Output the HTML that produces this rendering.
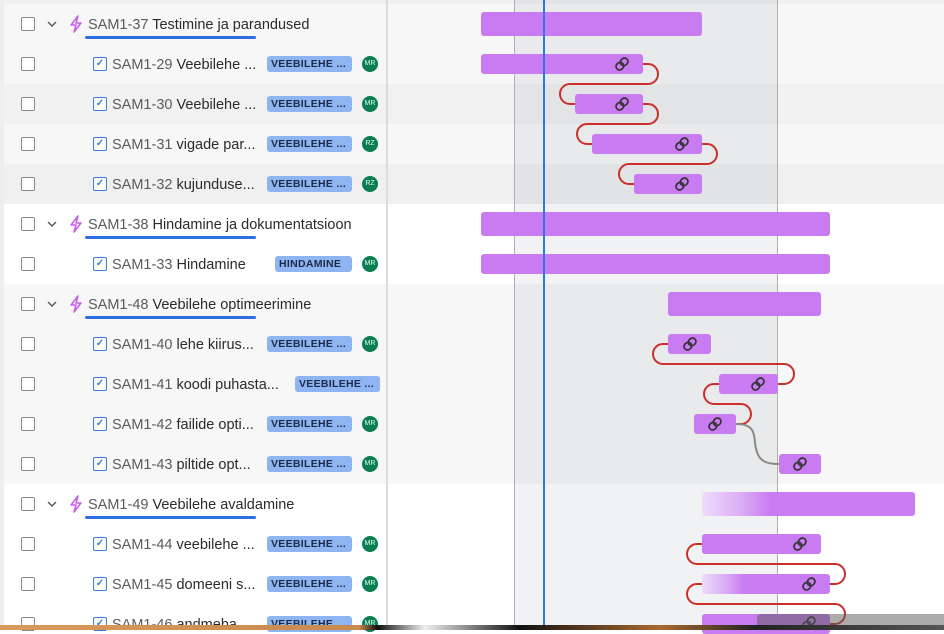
<!DOCTYPE html>
<html><head><meta charset="utf-8"><style>
*{margin:0;padding:0;box-sizing:border-box}
body{width:944px;height:630px;overflow:hidden;background:#fff;position:relative;font-family:"Liberation Sans",sans-serif}
.a{position:absolute}
.cb{position:absolute;left:21px;width:14px;height:14px;border:1.5px solid #8a8a8a;border-radius:2px;background:#fff}
.chev{position:absolute;left:46px}
.ltn{position:absolute;left:68px}
.txt{position:absolute;font-size:14.5px;color:#2b2b2b;white-space:nowrap;margin-top:2px}
.txt span{color:#5b5b5b}
.ul{position:absolute;left:85px;width:171px;height:3px;background:#2f6fdf;border-radius:2px}
.ck{position:absolute;left:93px;width:14px;height:14px;border:1.5px solid #3b7be0;border-radius:2px;background:#fff;color:#3b7be0;font-size:10px;line-height:11px;text-align:center;font-weight:bold}
.tag{position:absolute;height:16px;background:#8fb4f2;border-radius:3px;font-size:10.5px;font-weight:bold;color:#1d2b4a;line-height:16px;padding-left:4px;letter-spacing:.3px;white-space:nowrap;overflow:hidden}
.av{position:absolute;left:362px;width:16px;height:16px;border-radius:50%;background:#0b7d52;color:#dfe;font-size:7px;line-height:16px;text-align:center}
.bar{position:absolute;background:#c97cf2;border-radius:3px}
</style></head><body>
<div class="a" style="left:0;top:0;width:944px;height:4px;background:#f0f0f0"></div>
<div class="a" style="left:0;top:4px;width:944px;height:40px;background:#f7f7f7"></div>
<div class="a" style="left:0;top:44px;width:944px;height:40px;background:#f7f7f7"></div>
<div class="a" style="left:0;top:84px;width:944px;height:40px;background:#f1f1f1"></div>
<div class="a" style="left:0;top:124px;width:944px;height:40px;background:#f7f7f7"></div>
<div class="a" style="left:0;top:164px;width:944px;height:40px;background:#f0f0f0"></div>
<div class="a" style="left:0;top:284px;width:944px;height:200px;background:#f7f7f7"></div>
<div class="a" style="left:0;top:0;width:4px;height:630px;background:#eee"></div>
<div class="a" style="left:514px;top:0;width:264px;height:630px;background:rgba(0,20,40,0.055);border-left:1px solid #b0b0b0;border-right:1px solid #b0b0b0"></div>
<div class="a" style="left:386px;top:0;width:2px;height:630px;background:#dcdcdc"></div>

<svg width="0" height="0" style="position:absolute"><defs>
<symbol id="ch" viewBox="0 0 12 12"><path d="M2 4 L6 8 L10 4" fill="none" stroke="#555" stroke-width="1.4"/></symbol>
<symbol id="lt" viewBox="0 0 16 18"><path d="M10 1 L3 10 L8 10 L6 17 L13 8 L8 8 Z" fill="none" stroke="#c75df0" stroke-width="1.5" stroke-linejoin="round"/></symbol>
</defs></svg>

<svg class="chev" style="top:18px" width="12" height="12"><use href="#ch"/></svg><svg class="ltn" style="top:15px" width="16" height="18"><use href="#lt"/></svg>
<div class="cb" style="top:17px"></div>
<div class="txt" style="left:88px;top:15px"><span>SAM1-37</span> Testimine ja parandused</div><div class="ul" style="top:36px"></div>

<div class="cb" style="top:57px"></div><div class="ck" style="top:57px">✓</div><div class="txt" style="left:112px;top:55px"><span>SAM1-29</span> Veebilehe ...</div><div class="tag" style="left:267px;top:56px;width:85px">VEEBILEHE ...</div><div class="av" style="top:56px">MR</div>
<div class="cb" style="top:97px"></div><div class="ck" style="top:97px">✓</div><div class="txt" style="left:112px;top:95px"><span>SAM1-30</span> Veebilehe ...</div><div class="tag" style="left:267px;top:96px;width:85px">VEEBILEHE ...</div><div class="av" style="top:96px">MR</div>
<div class="cb" style="top:137px"></div><div class="ck" style="top:137px">✓</div><div class="txt" style="left:112px;top:135px"><span>SAM1-31</span> vigade par...</div><div class="tag" style="left:267px;top:136px;width:85px">VEEBILEHE ...</div><div class="av" style="top:136px">RZ</div>
<div class="cb" style="top:177px"></div><div class="ck" style="top:177px">✓</div><div class="txt" style="left:112px;top:175px"><span>SAM1-32</span> kujunduse...</div><div class="tag" style="left:267px;top:176px;width:85px">VEEBILEHE ...</div><div class="av" style="top:176px">RZ</div>

<svg class="chev" style="top:218px" width="12" height="12"><use href="#ch"/></svg><svg class="ltn" style="top:215px" width="16" height="18"><use href="#lt"/></svg>
<div class="cb" style="top:217px"></div>
<div class="txt" style="left:88px;top:215px"><span>SAM1-38</span> Hindamine ja dokumentatsioon</div><div class="ul" style="top:236px"></div>
<div class="cb" style="top:257px"></div><div class="ck" style="top:257px">✓</div><div class="txt" style="left:112px;top:255px"><span>SAM1-33</span> Hindamine</div><div class="tag" style="left:275px;top:256px;width:77px">HINDAMINE</div><div class="av" style="top:256px">MR</div>

<svg class="chev" style="top:298px" width="12" height="12"><use href="#ch"/></svg><svg class="ltn" style="top:295px" width="16" height="18"><use href="#lt"/></svg>
<div class="cb" style="top:297px"></div>
<div class="txt" style="left:88px;top:295px"><span>SAM1-48</span> Veebilehe optimeerimine</div><div class="ul" style="top:316px"></div>
<div class="cb" style="top:337px"></div><div class="ck" style="top:337px">✓</div><div class="txt" style="left:112px;top:335px"><span>SAM1-40</span> lehe kiirus...</div><div class="tag" style="left:267px;top:336px;width:85px">VEEBILEHE ...</div><div class="av" style="top:336px">MR</div>
<div class="cb" style="top:377px"></div><div class="ck" style="top:377px">✓</div><div class="txt" style="left:112px;top:375px"><span>SAM1-41</span> koodi puhasta...</div><div class="tag" style="left:295px;top:376px;width:85px">VEEBILEHE ...</div>
<div class="cb" style="top:417px"></div><div class="ck" style="top:417px">✓</div><div class="txt" style="left:112px;top:415px"><span>SAM1-42</span> failide opti...</div><div class="tag" style="left:267px;top:416px;width:85px">VEEBILEHE ...</div><div class="av" style="top:416px">MR</div>
<div class="cb" style="top:457px"></div><div class="ck" style="top:457px">✓</div><div class="txt" style="left:112px;top:455px"><span>SAM1-43</span> piltide opt...</div><div class="tag" style="left:267px;top:456px;width:85px">VEEBILEHE ...</div><div class="av" style="top:456px">MR</div>

<svg class="chev" style="top:498px" width="12" height="12"><use href="#ch"/></svg><svg class="ltn" style="top:495px" width="16" height="18"><use href="#lt"/></svg>
<div class="cb" style="top:497px"></div>
<div class="txt" style="left:88px;top:495px"><span>SAM1-49</span> Veebilehe avaldamine</div><div class="ul" style="top:516px"></div>
<div class="cb" style="top:537px"></div><div class="ck" style="top:537px">✓</div><div class="txt" style="left:112px;top:535px"><span>SAM1-44</span> veebilehe ...</div><div class="tag" style="left:267px;top:536px;width:85px">VEEBILEHE ...</div><div class="av" style="top:536px">MR</div>
<div class="cb" style="top:577px"></div><div class="ck" style="top:577px">✓</div><div class="txt" style="left:112px;top:575px"><span>SAM1-45</span> domeeni s...</div><div class="tag" style="left:267px;top:576px;width:85px">VEEBILEHE ...</div><div class="av" style="top:576px">MR</div>
<div class="cb" style="top:617px"></div><div class="ck" style="top:617px">✓</div><div class="txt" style="left:112px;top:615px"><span>SAM1-46</span> andmeba...</div><div class="tag" style="left:267px;top:616px;width:85px">VEEBILEHE ...</div><div class="av" style="top:616px">MR</div>

<div class="bar" style="left:481px;top:12px;width:221px;height:24px"></div>
<div class="bar" style="left:481px;top:54px;width:162px;height:20px"></div>
<div class="bar" style="left:575px;top:94px;width:68px;height:20px"></div>
<div class="bar" style="left:592px;top:134px;width:110px;height:20px"></div>
<div class="bar" style="left:634px;top:174px;width:68px;height:20px"></div>
<div class="bar" style="left:481px;top:212px;width:349px;height:24px"></div>
<div class="bar" style="left:481px;top:254px;width:349px;height:20px"></div>
<div class="bar" style="left:668px;top:292px;width:153px;height:24px"></div>
<div class="bar" style="left:668px;top:334px;width:43px;height:20px"></div>
<div class="bar" style="left:719px;top:374px;width:59px;height:20px"></div>
<div class="bar" style="left:694px;top:414px;width:42px;height:20px"></div>
<div class="bar" style="left:779px;top:454px;width:42px;height:20px"></div>
<div class="bar" style="left:702px;top:492px;width:213px;height:24px;background:linear-gradient(90deg,#eedcfb 0%,#d9a8f5 20%,#c97cf2 32%)"></div>
<div class="bar" style="left:702px;top:534px;width:119px;height:20px"></div>
<div class="bar" style="left:702px;top:574px;width:128px;height:20px;background:linear-gradient(90deg,#eedcfb 0%,#d9a8f5 20%,#c97cf2 32%)"></div>
<div class="bar" style="left:702px;top:614px;width:128px;height:20px"></div>

<svg class="a" style="left:0;top:0" width="944" height="630" fill="none" stroke-width="2">
<g stroke="#cc2f2a">
<path d="M643,64 h5 a10,10 0 0 1 0,20 H570 a10,10 0 0 0 0,20 h5"/>
<path d="M643,104 h5 a10,10 0 0 1 0,20 H587 a10,10 0 0 0 0,20 h5"/>
<path d="M702,144 h5 a10,10 0 0 1 0,20 H629 a10,10 0 0 0 0,20 h5"/>
<path d="M668,344 h-5 a10,10 0 0 0 0,20 H784 a10,10 0 0 1 0,20 h-6"/>
<path d="M719,384 h-5 a10,10 0 0 0 0,20 H741 a10,10 0 0 1 0,20 h-5"/>
<path d="M702,544 h-5 a10,10 0 0 0 0,20 H835 a10,10 0 0 1 0,20 h-5"/>
<path d="M702,584 h-5 a10,10 0 0 0 0,20 H835 a10,10 0 0 1 0,20 h-5"/>
</g>
<path d="M736,424 C760,424 752,440 757,452 C760,462 768,464 779,464" stroke="#888"/>
<g stroke="#333" stroke-width="1.7">
<g transform="translate(622,64) rotate(-45)"><rect x="-7" y="-3.5" width="8" height="7" rx="3.5"/><rect x="-1" y="-3.5" width="8" height="7" rx="3.5"/></g>
<g transform="translate(622,104) rotate(-45)"><rect x="-7" y="-3.5" width="8" height="7" rx="3.5"/><rect x="-1" y="-3.5" width="8" height="7" rx="3.5"/></g>
<g transform="translate(682,144) rotate(-45)"><rect x="-7" y="-3.5" width="8" height="7" rx="3.5"/><rect x="-1" y="-3.5" width="8" height="7" rx="3.5"/></g>
<g transform="translate(682,184) rotate(-45)"><rect x="-7" y="-3.5" width="8" height="7" rx="3.5"/><rect x="-1" y="-3.5" width="8" height="7" rx="3.5"/></g>
<g transform="translate(690,344) rotate(-45)"><rect x="-7" y="-3.5" width="8" height="7" rx="3.5"/><rect x="-1" y="-3.5" width="8" height="7" rx="3.5"/></g>
<g transform="translate(758,384) rotate(-45)"><rect x="-7" y="-3.5" width="8" height="7" rx="3.5"/><rect x="-1" y="-3.5" width="8" height="7" rx="3.5"/></g>
<g transform="translate(715,424) rotate(-45)"><rect x="-7" y="-3.5" width="8" height="7" rx="3.5"/><rect x="-1" y="-3.5" width="8" height="7" rx="3.5"/></g>
<g transform="translate(800,464) rotate(-45)"><rect x="-7" y="-3.5" width="8" height="7" rx="3.5"/><rect x="-1" y="-3.5" width="8" height="7" rx="3.5"/></g>
<g transform="translate(800,544) rotate(-45)"><rect x="-7" y="-3.5" width="8" height="7" rx="3.5"/><rect x="-1" y="-3.5" width="8" height="7" rx="3.5"/></g>
<g transform="translate(809,584) rotate(-45)"><rect x="-7" y="-3.5" width="8" height="7" rx="3.5"/><rect x="-1" y="-3.5" width="8" height="7" rx="3.5"/></g>
<g transform="translate(809,623) rotate(-45)"><rect x="-7" y="-3.5" width="8" height="7" rx="3.5"/><rect x="-1" y="-3.5" width="8" height="7" rx="3.5"/></g>
</g>
</svg>
<div class="a" style="left:543px;top:0;width:2px;height:630px;background:#2f78e0"></div>
<div class="a" style="left:757px;top:614px;width:187px;height:12px;background:rgba(90,90,90,0.5);border-radius:4px 0 0 0"></div>
<div class="a" style="left:0;top:625px;width:944px;height:5px;background:linear-gradient(90deg,#d99a5a 0%,#c98a50 38%,#111 40%,#eee 45%,#111 55%,#aa6a30 70%,#222 80%,#555 100%)"></div>
</body></html>
